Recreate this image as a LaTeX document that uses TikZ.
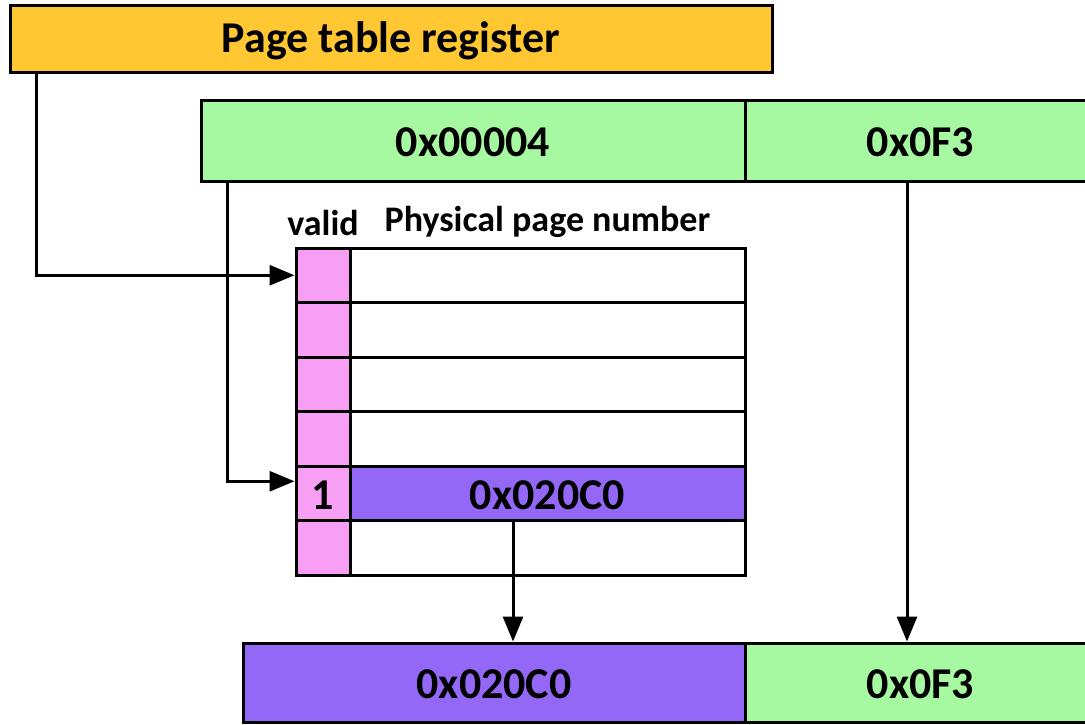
\documentclass[tikz,border=0pt]{standalone}
\usepackage{fontspec}
\setmainfont{Carlito}
\usetikzlibrary{arrows.meta}

\definecolor{regorange}{RGB}{255,200,50}
\definecolor{addrgreen}{RGB}{166,249,160}
\definecolor{validpink}{RGB}{249,158,245}
\definecolor{framepurple}{RGB}{148,104,246}

\tikzset{
  field/.style={draw, inner sep=0pt, text height=32pt, text depth=0pt,
    font=\bfseries\fontsize{44}{48}\selectfont},
  cell/.style={draw, inner sep=0pt, minimum height=54.5},
  hdr/.style={inner sep=0pt, font=\bfseries\fontsize{36}{40}\selectfont},
  link/.style={-{Triangle[length=25pt,width=20pt]}}
}

\begin{document}
\begin{tikzpicture}[x=1pt, y=-1pt, line width=3pt]
\path[use as bounding box, fill=white] (0,0) rectangle (1085,724);

% page table register and virtual address
\node[field, fill=regorange, minimum width=762, minimum height=67, text height=27pt] (ptr) at (391,38.5) {Page table register};
\node[field, fill=addrgreen, minimum width=544, minimum height=81] (vpn) at (473,140.5) {0x00004};
\node[field, fill=addrgreen, minimum width=351, minimum height=81] (off) at (920.5,140.5) {0x0F3};

% the page table
\foreach \i/\rowfill in {1/white,2/white,3/white,4/white,5/framepurple,6/white}{
  \node[cell, fill=validpink, minimum width=54] (v\i) at (323,{248+54.5*(\i-0.5)}) {};
  \node[cell, fill=\rowfill, minimum width=395] (p\i) at (547.5,{248+54.5*(\i-0.5)}) {};
}
\node[field, draw=none] (bit5) at (v5) {1};
\node[field, draw=none] (ppn5) at (p5) {0x020C0};
\node[hdr, anchor=base] (validlbl) at ([yshift=11pt]v1.north) {valid};
\node[hdr, anchor=base] (ppnlbl) at ([yshift=15pt]p1.north) {Physical page number};

% physical address
\node[field, fill=framepurple, minimum width=502, minimum height=79] (ppage) at (494,682.5) {0x020C0};
\node[field, fill=addrgreen, minimum width=351, minimum height=79] (poff) at (920.5,682.5) {0x0F3};

% connectors
\draw[link] ([xshift=28pt]ptr.south west) |- (v1.west);
\draw[link] ([xshift=28pt]vpn.south west) |- ([yshift=12pt]v5.west);
\draw[link] ([xshift=-34.5pt]p5.south) -- ([xshift=-34.5pt]p5.south |- ppage.north);
\draw[link] ([xshift=-13.5pt]off.south) -- ([xshift=-13.5pt]off.south |- poff.north);
\end{tikzpicture}
\end{document}
